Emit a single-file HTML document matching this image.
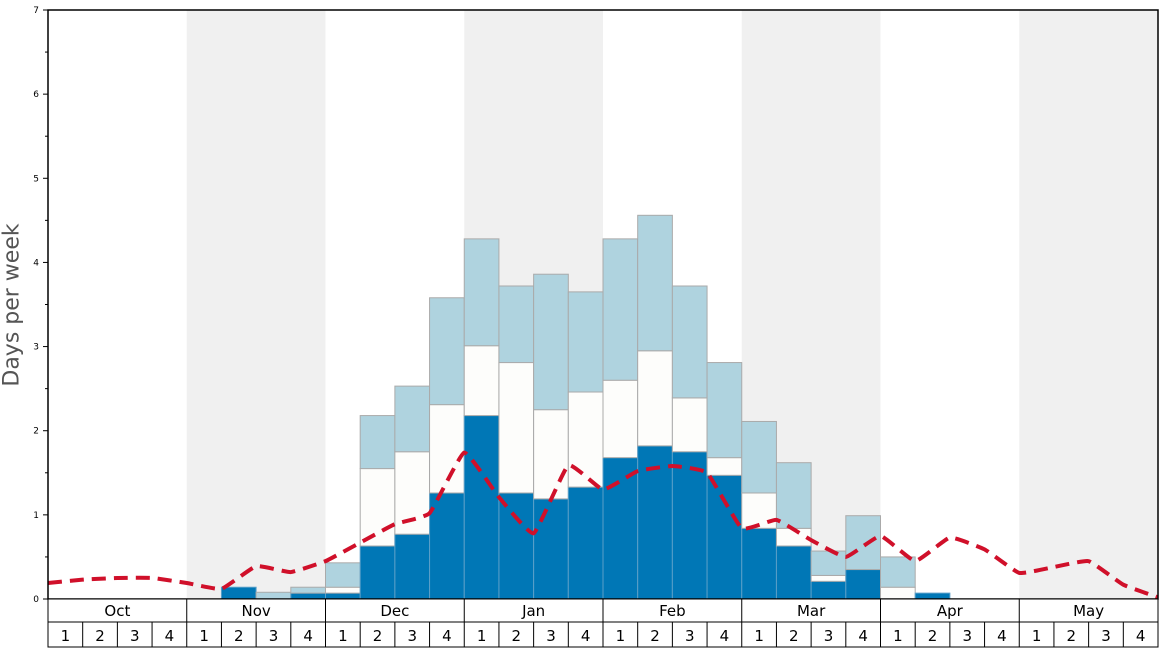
<!DOCTYPE html>
<html><head><meta charset="utf-8"><style>
body{margin:0;background:#fff;}
svg{display:block;font-family:"DejaVu Sans","Liberation Sans",sans-serif;}
</style></head><body>
<svg id="chart" width="1168" height="648"></svg>
<script>
const months = ["Oct","Nov","Dec","Jan","Feb","Mar","Apr","May"];
const weekLabels = ["1","2","3","4"];
const yTicks = [0,1,2,3,4,5,6,7];
const darkVals  = [0,0,0,0, 0,0.14,0,0.07, 0.07,0.63,0.77,1.26, 2.18,1.26,1.19,1.33, 1.68,1.82,1.75,1.47, 0.84,0.63,0.21,0.35, 0,0.07,0,0, 0,0,0,0];
const whiteVals = [0,0,0,0, 0,0.14,0,0.07, 0.14,1.55,1.75,2.31, 3.01,2.81,2.25,2.46, 2.60,2.95,2.39,1.68, 1.26,0.84,0.28,0.35, 0.14,0.07,0,0, 0,0,0,0];
const totalVals = [0,0,0,0, 0,0.14,0.08,0.14, 0.43,2.18,2.53,3.58, 4.28,3.72,3.86,3.65, 4.28,4.56,3.72,2.81, 2.11,1.62,0.57,0.99, 0.50,0.07,0,0, 0,0,0,0];
const avgVals = [0.19,0.23,0.25,0.25,0.19,0.12,0.39,0.32,0.45,0.67,0.89,1.02,1.74,1.21,0.78,1.59,1.30,1.52,1.58,1.50,0.84,0.94,0.70,0.50,0.75,0.45,0.73,0.59,0.31,0.38,0.45,0.17,0.02];

const NS="http://www.w3.org/2000/svg";
const svg=document.getElementById('chart');
const L=48,R=1158,T=10,B=599;
const nW=32, wW=(R-L)/nW;
const x=i=>L+i*wW;
const y=v=>B-(v/7)*(B-T);
function mk(tag,attrs,parent){const e=document.createElementNS(NS,tag);for(const k in attrs)e.setAttribute(k,attrs[k]);(parent||svg).appendChild(e);return e;}

months.forEach((m,i)=>{
  if(i%2===1){const r=mk('rect',{x:x(i*4),y:T,width:wW*4,height:B-T,fill:'#f0f0f0'});
  
  }
});
for(let i=0;i<nW;i++){
  const segs=[[0,darkVals[i],'#0077b6','#5a9fc8'],[darkVals[i],whiteVals[i],'#fdfdfb','#aaa'],[whiteVals[i],totalVals[i],'#afd3df','#aaa']];
  segs.forEach((s,k)=>{
    if(s[1]>s[0]+0.001){
      const r=mk('rect',{x:x(i),y:y(s[1]),width:wW,height:y(s[0])-y(s[1]),fill:s[2],stroke:s[3],'stroke-width':1});
      
      
    }
  });
}
const pts=avgVals.map((v,i)=>[x(i),y(v)]);
let d='M'+pts[0][0]+','+pts[0][1];
for(let i=0;i<pts.length-1;i++){
  const p0=pts[Math.max(0,i-1)],p1=pts[i],p2=pts[i+1],p3=pts[Math.min(pts.length-1,i+2)];
  const t=0.06;
  const c1=[p1[0]+(p2[0]-p0[0])*t,p1[1]+(p2[1]-p0[1])*t];
  const c2=[p2[0]-(p3[0]-p1[0])*t,p2[1]-(p3[1]-p1[1])*t];
  d+='C'+c1[0]+','+c1[1]+' '+c2[0]+','+c2[1]+' '+p2[0]+','+p2[1];
}
const ln=mk('path',{d:d,fill:'none',stroke:'#d0102a','stroke-width':4,'stroke-dasharray':'14,8'});



const fr=mk('rect',{x:L,y:T,width:R-L,height:B-T,fill:'none',stroke:'#000','stroke-width':1.5});


yTicks.forEach(v=>{
  mk('line',{x1:L-5,x2:L,y1:y(v),y2:y(v),stroke:'#000'});
  if(v<7)mk('line',{x1:L-3,x2:L,y1:y(v+0.5),y2:y(v+0.5),stroke:'#000'});
  const t=mk('text',{x:L-9,y:y(v)+3,'font-size':9,'text-anchor':'end'});t.textContent=v;
  
  
});
const yt=mk('text',{x:0,y:0,'font-size':22,fill:'#555','text-anchor':'middle','dominant-baseline':'central',transform:'translate(12,305) rotate(-90)'});
yt.textContent='Days per week';



mk('rect',{x:L,y:B,width:R-L,height:48,fill:'#fff',stroke:'#000'});
mk('line',{x1:L,x2:R,y1:622,y2:622,stroke:'#000'});
months.forEach((m,i)=>{
  mk('line',{x1:x(i*4),x2:x(i*4),y1:B,y2:647,stroke:'#000'});
  const t=mk('text',{x:x(i*4)+wW*2,y:616,'font-size':15,'text-anchor':'middle'});t.textContent=m;
  
  
  weekLabels.forEach((w,j)=>{
    if(j>0)mk('line',{x1:x(i*4+j),x2:x(i*4+j),y1:622,y2:647,stroke:'#000'});
    const tw=mk('text',{x:x(i*4+j)+wW/2,y:641,'font-size':15,'text-anchor':'middle'});tw.textContent=w;
    
    
  });
});
mk('line',{x1:R,x2:R,y1:B,y2:647,stroke:'#000'});
</script>
</body></html>
